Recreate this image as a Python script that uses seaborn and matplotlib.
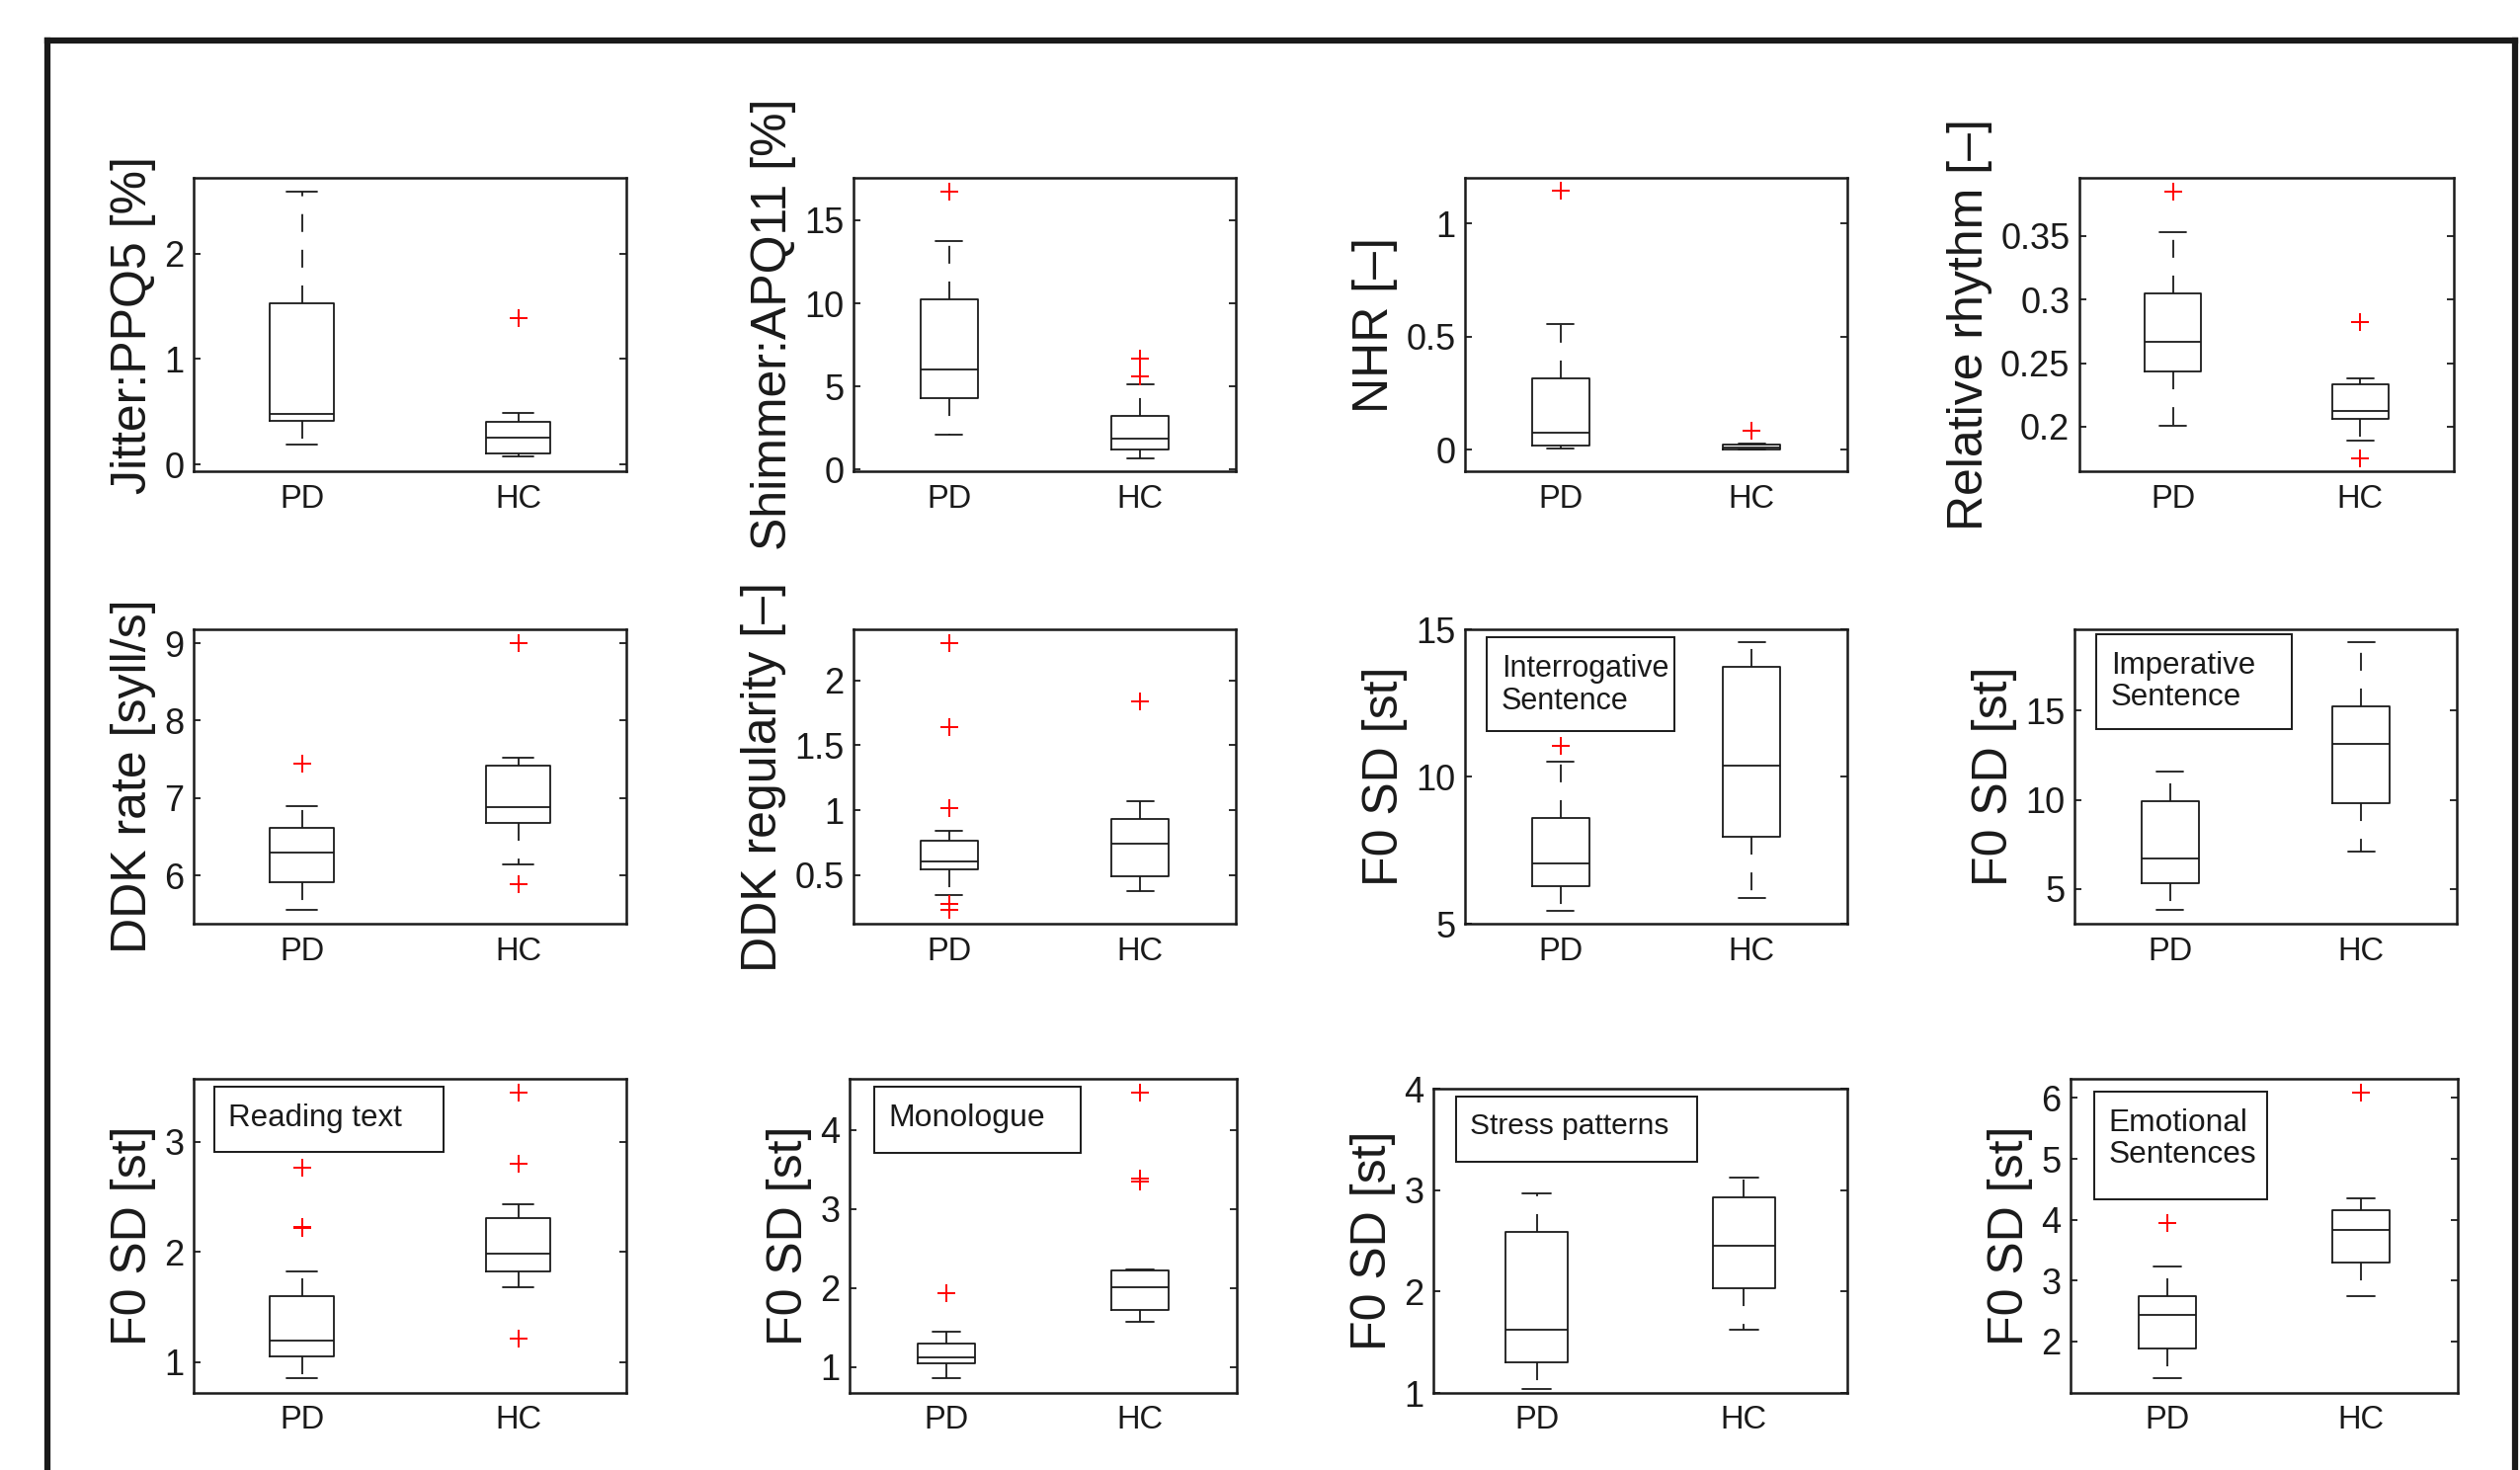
import matplotlib
matplotlib.use("Agg")
import matplotlib.pyplot as plt
import matplotlib.transforms as mtransforms
from matplotlib.patches import Rectangle
from matplotlib.lines import Line2D
import pandas as pd
import seaborn as sns

# ---------------- data ----------------
groups = ["PD", "HC"]

# five-number summaries: [lower whisker, Q1, median, Q3, upper whisker]
jitter_pd = [0.19, 0.41, 0.48, 1.53, 2.59]
jitter_hc = [0.08, 0.10, 0.25, 0.40, 0.49]
jitter_out_pd = []
jitter_out_hc = [1.39]

shimmer_pd = [2.09, 4.31, 6.00, 10.23, 13.75]
shimmer_hc = [0.70, 1.23, 1.89, 3.22, 5.11]
shimmer_out_pd = [16.73]
shimmer_out_hc = [5.62, 6.66]

nhr_pd = [0.007, 0.020, 0.076, 0.315, 0.558]
nhr_hc = [0.0, 0.0, 0.010, 0.025, 0.029]
nhr_out_pd = [1.146]
nhr_out_hc = [0.086]

rhythm_pd = [0.2008, 0.2433, 0.2666, 0.3044, 0.3531]
rhythm_hc = [0.1888, 0.2062, 0.2124, 0.2334, 0.2383]
rhythm_out_pd = [0.385]
rhythm_out_hc = [0.2821, 0.1751]

ddk_rate_pd = [5.55, 5.91, 6.29, 6.61, 6.89]
ddk_rate_hc = [6.14, 6.68, 6.88, 7.42, 7.52]
ddk_rate_out_pd = [7.44]
ddk_rate_out_hc = [9.0, 5.88]

ddk_reg_pd = [0.342, 0.543, 0.606, 0.764, 0.842]
ddk_reg_hc = [0.373, 0.490, 0.738, 0.934, 1.071]
ddk_reg_out_pd = [2.29, 1.637, 1.015, 0.279, 0.228]
ddk_reg_out_hc = [1.835]

interrog_pd = [5.45, 6.27, 7.06, 8.58, 10.50]
interrog_hc = [5.87, 7.94, 10.38, 13.72, 14.58]
interrog_out_pd = [11.03]
interrog_out_hc = []

imper_pd = [3.80, 5.30, 6.70, 9.91, 11.59]
imper_hc = [7.07, 9.81, 13.13, 15.26, 18.83]
imper_out_pd = []
imper_out_hc = []

reading_pd = [0.856, 1.05, 1.20, 1.60, 1.823]
reading_hc = [1.68, 1.82, 1.99, 2.31, 2.433]
reading_out_pd = [2.769, 2.23, 2.215]
reading_out_hc = [3.444, 2.805, 1.21]

mono_pd = [0.853, 1.046, 1.117, 1.297, 1.452]
mono_hc = [1.571, 1.718, 2.015, 2.22, 2.236]
mono_out_pd = [1.937]
mono_out_hc = [4.469, 3.388, 3.346]

stress_pd = [1.04, 1.30, 1.62, 2.583, 2.967]
stress_hc = [1.625, 2.036, 2.453, 2.925, 3.124]
stress_out_pd = []
stress_out_hc = []

emo_pd = [1.40, 1.88, 2.435, 2.75, 3.235]
emo_hc = [2.74, 3.29, 3.83, 4.15, 4.35]
emo_out_pd = [3.946]
emo_out_hc = [6.08]

ylabels = ["Jitter:PPQ5 [%]", "Shimmer:APQ11 [%]", "NHR [\u2013]", "Relative rhythm [\u2013]",
           "DDK rate [syll/s]", "DDK regularity [\u2013]", "F0 SD [st]", "F0 SD [st]",
           "F0 SD [st]", "F0 SD [st]", "F0 SD [st]", "F0 SD [st]"]

yticks = [[0, 1, 2], [0, 5, 10, 15], [0, 0.5, 1], [0.2, 0.25, 0.3, 0.35],
          [6, 7, 8, 9], [0.5, 1, 1.5, 2], [5, 10, 15], [5, 10, 15],
          [1, 2, 3], [1, 2, 3, 4], [1, 2, 3, 4], [2, 3, 4, 5, 6]]

ylims = [(-0.065, 2.72), (-0.1, 17.55), (-0.095, 1.203), (0.165, 0.3956),
         (5.375, 9.18), (0.124, 2.394), (5, 15), (3.04, 19.57),
         (0.721, 3.573), (0.67, 4.649), (1, 4), (1.153, 6.315)]

box_texts = [None, None, None, None, None, None,
             "Interrogative\nSentence", "Imperative\nSentence",
             "Reading text", "Monologue", "Stress patterns", "Emotional\nSentences"]

summaries = [(jitter_pd, jitter_hc, jitter_out_pd, jitter_out_hc),
             (shimmer_pd, shimmer_hc, shimmer_out_pd, shimmer_out_hc),
             (nhr_pd, nhr_hc, nhr_out_pd, nhr_out_hc),
             (rhythm_pd, rhythm_hc, rhythm_out_pd, rhythm_out_hc),
             (ddk_rate_pd, ddk_rate_hc, ddk_rate_out_pd, ddk_rate_out_hc),
             (ddk_reg_pd, ddk_reg_hc, ddk_reg_out_pd, ddk_reg_out_hc),
             (interrog_pd, interrog_hc, interrog_out_pd, interrog_out_hc),
             (imper_pd, imper_hc, imper_out_pd, imper_out_hc),
             (reading_pd, reading_hc, reading_out_pd, reading_out_hc),
             (mono_pd, mono_hc, mono_out_pd, mono_out_hc),
             (stress_pd, stress_hc, stress_out_pd, stress_out_hc),
             (emo_pd, emo_hc, emo_out_pd, emo_out_hc)]

# ---------------- layout & style ----------------
sns.set_theme(style="white")
plt.rcParams["font.family"] = ["Liberation Sans", "DejaVu Sans"]

W, H = 2551, 1488
fig = plt.figure(figsize=(W / 100, H / 100), dpi=100)
fig.patch.set_facecolor("white")

# axes rectangles in pixels: (left, top, right, bottom)
rects = [(196, 180, 634, 477), (864, 180, 1251, 477), (1483, 180, 1870, 477), (2105, 180, 2484, 477),
         (196, 637, 634, 935), (864, 637, 1251, 935), (1483, 637, 1870, 935), (2100, 637, 2487, 935),
         (196, 1092, 634, 1410), (860, 1092, 1252, 1410), (1451, 1102, 1870, 1410), (2096, 1092, 2488, 1410)]

# annotation boxes (data coords: x0, y0, x1, y1) and font sizes
text_boxes = [None] * 6 + [(0.616, 11.53, 1.598, 14.72), (0.615, 13.95, 1.639, 19.3),
                           (0.594, 2.905, 1.657, 3.498), (0.625, 3.715, 1.693, 4.545),
                           (0.608, 3.28, 1.775, 3.925), (0.621, 4.334, 1.513, 6.103)]
text_sizes = [None] * 6 + [22, 22.5, 22.5, 23, 21.5, 22.8]

LC = "#1a1a1a"

def fmt(v):
    return f"{v:g}"

for i, (rect, summ) in enumerate(zip(rects, summaries)):
    l, t, r, b = rect
    ax = fig.add_axes([l / W, 1 - b / H, (r - l) / W, (b - t) / H])
    s_pd, s_hc, o_pd, o_hc = summ
    stats = []
    for s, name in ((s_pd, "PD"), (s_hc, "HC")):
        stats.append(dict(whislo=s[0], q1=s[1], med=s[2], q3=s[3], whishi=s[4],
                          fliers=[], label=name))
    ax.bxp(stats, positions=[1, 2], widths=0.3, capwidths=0.14, showfliers=False,
           manage_ticks=False,
           boxprops=dict(color=LC, linewidth=1.3),
           medianprops=dict(color=LC, linewidth=1.3),
           whiskerprops=dict(color=LC, linewidth=1.3, linestyle=(0, (10, 10))),
           capprops=dict(color=LC, linewidth=1.3))
    outs = pd.DataFrame({"x": [1] * len(o_pd) + [2] * len(o_hc),
                         "y": list(o_pd) + list(o_hc)})
    if len(outs):
        sns.scatterplot(data=outs, x="x", y="y", marker="+", s=180, color="#ff0000",
                        linewidth=1.4, ax=ax, zorder=5, legend=False)
    ax.set_xlim(0.5, 2.5)
    ax.set_ylim(*ylims[i])
    ax.set_xticks([1, 2])
    ax.set_xticklabels(groups)
    ax.set_yticks(yticks[i])
    ax.set_yticklabels([fmt(v) for v in yticks[i]])
    ax.set_xlabel("")
    ax.set_ylabel(ylabels[i], fontsize=36, color=LC, labelpad=6)
    ax.tick_params(axis="y", direction="in", length=5, width=1.3, left=True, right=True,
                   labelsize=26, pad=7, colors=LC)
    ax.tick_params(axis="x", length=0, labelsize=23.5, pad=9, colors=LC)
    for sp in ax.spines.values():
        sp.set_visible(True)
        sp.set_color(LC)
        sp.set_linewidth(1.8)
    ax.set_facecolor("white")
    ax.grid(False)
    if box_texts[i] is not None:
        x0, y0, x1, y1 = text_boxes[i]
        ax.add_patch(Rectangle((x0, y0), x1 - x0, y1 - y0, fill=False, edgecolor=LC,
                               linewidth=1.4, zorder=6))
        tr = mtransforms.offset_copy(ax.transData, fig=fig, x=10.5, y=-12, units="points")
        ax.text(x0, y1, box_texts[i], transform=tr, ha="left", va="top",
                fontsize=text_sizes[i], color=LC, linespacing=1.12, zorder=7)

# thick outer frame (cut at the bottom of the image)
fl, ft, fr = 48 / W, 1 - 41 / H, 2546 / W
for xs, ys in (([fl, fl], [-0.05, ft]), ([fl, fr], [ft, ft]), ([fr, fr], [ft, -0.05])):
    fig.add_artist(Line2D(xs, ys, transform=fig.transFigure, color="#1a1a1a",
                          linewidth=4.5, solid_capstyle="projecting"))

fig.savefig("out.png", dpi=100, facecolor="white")
